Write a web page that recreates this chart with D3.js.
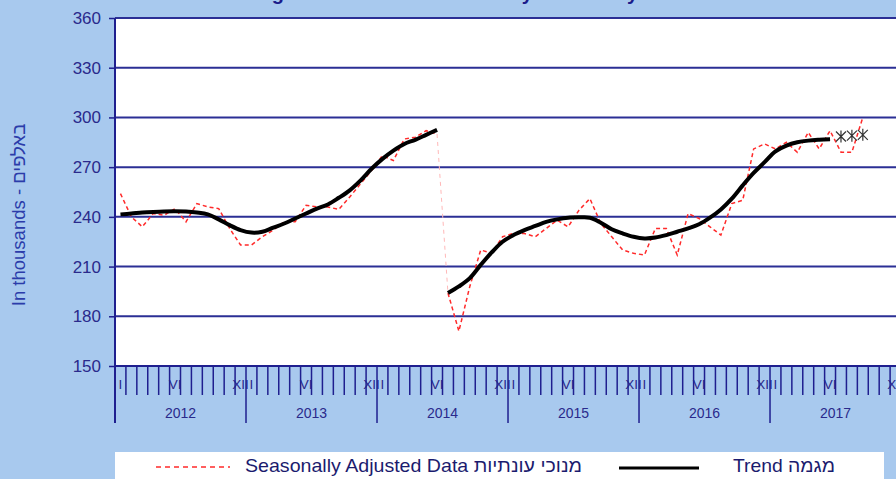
<!DOCTYPE html>
<html>
<head>
<meta charset="utf-8">
<script src="https://cdn.jsdelivr.net/npm/d3@7"></script>
<style>
  body { margin: 0; background: #a8c9ee; }
  svg { display: block; font-family: Arial, "Liberation Sans", sans-serif; }
</style>
</head>
<body>
<div id="chart"></div>
<script>
// Monthly series, January 2012 onwards (index 0 = Jan 2012)
const years = ["2012", "2013", "2014", "2015", "2016", "2017"];
const monthLabels = ["I", "VI", "XII"];
const monthLabelIdx = [0, 5, 11];
const yTicks = [150, 180, 210, 240, 270, 300, 330, 360];

// Seasonally adjusted, Jan 2012 - Jun 2014 (old series)
const adjustedOld = [254, 240, 234, 242, 241, 245, 237, 248, 246, 245, 233, 223,
                     223, 228, 232, 237, 237, 247, 246, 246, 244.5, 252, 260, 268,
                     277, 274, 287, 288, 292, 290];
// Seasonally adjusted, Jul 2014 - Sep 2017 (new series)
const adjustedNew = [194, 171, 198, 220, 218, 228,
                     230, 230, 228, 233, 238, 234, 244, 251, 236, 228, 220, 218,
                     217, 233, 233, 217, 242, 239, 234, 229, 248, 250, 281, 284,
                     281, 285, 279, 291, 281, 292, 279, 279, 300];
// Trend, Jan 2012 - Jun 2014
const trendOld = [241.5, 242, 242.6, 243, 243.3, 243.4, 243.2, 242.6, 241.5, 238.5, 235, 232,
                  230.5, 231, 233.5, 236, 239, 242, 245, 247.5, 251.5, 256, 262, 269,
                  275, 280, 284, 286.5, 289.5, 292.5];
// Trend, Jul 2014 - Jun 2017
const trendNew = [194, 198, 203, 211, 218.5, 225,
                  229, 232, 234.5, 237, 238.5, 239.5, 239.7, 239.5, 236.5, 232.5, 230, 228,
                  227, 227.5, 229, 231, 233, 235.5, 239.5, 244.5, 251, 259, 266.5, 273,
                  279.5, 283, 285, 286, 286.5, 286.8];
// Provisional trend estimates, Jul - Sep 2017
const trendProvisional = [288.5, 289, 289.5];

const newStart = adjustedOld.length; // Jul 2014

const width = 896, height = 479;
const plotLeft = 115, plotTop = 18, plotBottom = 366;
const monthW = 10.917;

const svg = d3.select("#chart").append("svg")
    .attr("width", width)
    .attr("height", height);

const x = d3.scaleLinear().domain([0, 72]).range([plotLeft, plotLeft + 72 * monthW]);
const y = d3.scaleLinear().domain([150, 360]).range([plotBottom, plotTop]);
const xc = i => x(i + 0.5);

// title (cut off at the top, only descenders show)
svg.append("text")
    .attr("x", 452).attr("y", -0.5)
    .attr("text-anchor", "middle")
    .style("font-size", "20px").style("font-weight", "bold")
    .attr("fill", "#1b1b8a")
    .text("Average Job Vacancies - Monthly and Yearly Data");

// plot area
svg.append("rect")
    .attr("x", plotLeft).attr("y", plotTop)
    .attr("width", width - plotLeft).attr("height", plotBottom - plotTop)
    .attr("fill", "white");

// gridlines
svg.append("g").selectAll("line")
    .data(yTicks)
    .join("line")
    .attr("x1", plotLeft).attr("x2", width)
    .attr("y1", d => y(d)).attr("y2", d => y(d))
    .attr("stroke", "#2b2f95")
    .attr("stroke-width", 2);

// y axis
const yAxis = svg.append("g")
    .attr("transform", `translate(${plotLeft},0)`)
    .call(d3.axisLeft(y).tickValues(yTicks).tickSize(6).tickPadding(8));
yAxis.select(".domain").remove();
yAxis.selectAll("line").attr("stroke", "#1f1f8f").attr("stroke-width", 1.5);
yAxis.selectAll("text")
    .attr("fill", "#2a2a8c")
    .style("font-size", "17px");

svg.append("line")
    .attr("x1", plotLeft).attr("x2", plotLeft)
    .attr("y1", plotTop).attr("y2", 423)
    .attr("stroke", "#1f1f8f").attr("stroke-width", 2);

svg.append("text")
    .attr("transform", "translate(25,215) rotate(-90)")
    .attr("text-anchor", "middle")
    .attr("fill", "#2b3caa")
    .style("font-size", "18.5px")
    .text("In thousands - באלפים");

// x axis: month ticks and labels
const xAxis = svg.append("g");
xAxis.append("line")
    .attr("x1", plotLeft).attr("x2", width)
    .attr("y1", plotBottom).attr("y2", plotBottom)
    .attr("stroke", "#1f1f8f").attr("stroke-width", 2);

const labelData = [];
years.forEach((yr, j) => {
    monthLabelIdx.forEach((m, k) => labelData.push({ i: j * 12 + m, t: monthLabels[k] }));
});
xAxis.selectAll(".mlab")
    .data(labelData)
    .join("text")
    .attr("class", "mlab")
    .attr("x", d => xc(d.i))
    .attr("y", 389)
    .attr("text-anchor", "middle")
    .attr("fill", "#2a2a8c")
    .style("font-size", "13.5px")
    .text(d => d.t);

xAxis.selectAll(".mtick")
    .data(d3.range(1, 73))
    .join("line")
    .attr("class", "mtick")
    .attr("x1", d => x(d)).attr("x2", d => x(d))
    .attr("y1", plotBottom)
    .attr("y2", d => d % 12 === 0 ? 423 : 395)
    .attr("stroke", "#1f1f8f").attr("stroke-width", 1.5);

xAxis.selectAll(".ylab")
    .data(years)
    .join("text")
    .attr("class", "ylab")
    .attr("x", (d, j) => x(j * 12 + 6))
    .attr("y", 418)
    .attr("text-anchor", "middle")
    .attr("fill", "#2a2a8c")
    .style("font-size", "14px")
    .text(d => d);

// lines
const plot = svg.append("g");
const line = d3.line().x(d => xc(d.i)).y(d => y(d.v));
const smooth = d3.line().x(d => xc(d.i)).y(d => y(d.v)).curve(d3.curveCatmullRom.alpha(0.5));

const adjOld = adjustedOld.map((v, i) => ({ i, v }));
const adjNew = adjustedNew.map((v, i) => ({ i: i + newStart, v }));
const trOld = trendOld.map((v, i) => ({ i, v }));
const trNew = trendNew.map((v, i) => ({ i: i + newStart, v }));

// faint link across the series break
plot.append("path")
    .attr("d", line([adjOld[adjOld.length - 1], adjNew[0]]))
    .attr("fill", "none")
    .attr("stroke", "#ffb8b8")
    .attr("stroke-width", 1)
    .attr("stroke-dasharray", "4,4");

[adjOld, adjNew].forEach(s => {
    plot.append("path")
        .attr("d", line(s))
        .attr("fill", "none")
        .attr("stroke", "#ff2a2a")
        .attr("stroke-width", 1.5)
        .attr("stroke-dasharray", "4,3");
});

[trOld, trNew].forEach(s => {
    plot.append("path")
        .attr("d", smooth(s))
        .attr("fill", "none")
        .attr("stroke", "#000")
        .attr("stroke-width", 4)
        .attr("stroke-linejoin", "round");
});

// asterisk markers for provisional trend
const star = "M-5,-5L5,5M-5,5L5,-5M0,-6L0,6";
plot.selectAll(".prov")
    .data(trendProvisional.map((v, k) => ({ i: newStart + trendNew.length + k, v })))
    .join("path")
    .attr("class", "prov")
    .attr("transform", d => `translate(${xc(d.i)},${y(d.v)})`)
    .attr("d", star)
    .attr("fill", "none")
    .attr("stroke", "#333")
    .attr("stroke-width", 1.2);

// legend
const legend = svg.append("g");
legend.append("rect")
    .attr("x", plotLeft).attr("y", 452)
    .attr("width", 769).attr("height", 40)
    .attr("fill", "white");
legend.append("line")
    .attr("x1", 156).attr("x2", 230).attr("y1", 467).attr("y2", 467)
    .attr("stroke", "#ff2a2a").attr("stroke-width", 1.5)
    .attr("stroke-dasharray", "5,4");
legend.append("text")
    .attr("x", 245).attr("y", 472)
    .attr("fill", "#1b1b6e")
    .style("font-size", "18.5px")
    .attr("textLength", 337)
    .attr("lengthAdjust", "spacingAndGlyphs")
    .text("Seasonally Adjusted  Data מנוכי עונתיות");
legend.append("line")
    .attr("x1", 619).attr("x2", 699).attr("y1", 468).attr("y2", 468)
    .attr("stroke", "#000").attr("stroke-width", 3);
legend.append("text")
    .attr("x", 733).attr("y", 472)
    .attr("fill", "#1b1b6e")
    .style("font-size", "18.5px")
    .attr("textLength", 102)
    .attr("lengthAdjust", "spacingAndGlyphs")
    .text("Trend מגמה");
</script>
</body>
</html>
